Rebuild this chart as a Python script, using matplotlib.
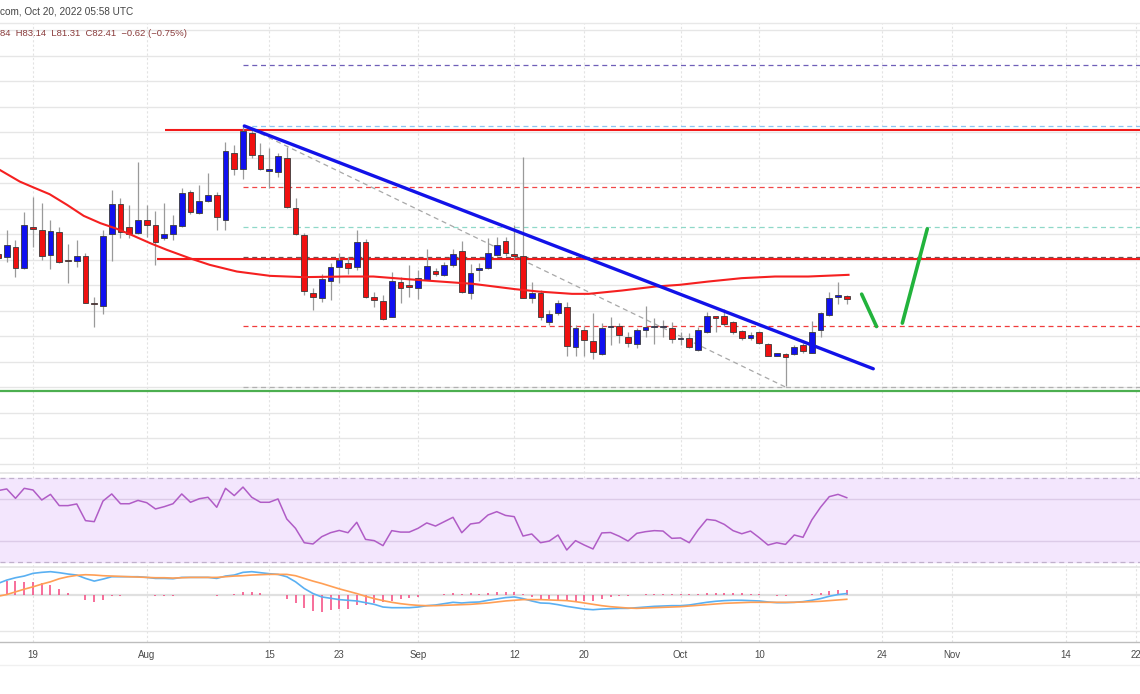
import matplotlib
matplotlib.use('Agg')
import matplotlib.pyplot as plt
import numpy as np

# day index: 0 = 2022-07-19, one candle per calendar day (d = -4 ... 93)
days = list(range(-4, 94))

opens = [91.18, 90.59, 92.61, 88.43, 96.47, 95.88, 90.98, 95.55, 89.90, 89.86,
         90.78, 81.51, 81.04, 95.04, 100.92, 96.41, 95.24, 97.84, 96.80, 94.25,
         95.04, 96.67, 103.39, 99.27, 101.57, 102.75, 97.84, 111.04, 107.84, 114.96,
         110.59, 107.45, 107.20, 109.94, 100.25, 94.90, 83.47, 82.61, 85.88, 88.69,
         89.35, 88.69, 93.47, 82.80, 82.02, 78.88, 85.69, 85.10, 84.57, 86.08,
         87.90, 87.06, 89.02, 91.82, 83.47, 88.10, 88.37, 90.98, 93.73, 91.12,
         90.78, 82.61, 83.59, 77.90, 79.67, 80.84, 73.00, 76.27, 74.12, 71.57,
         76.80, 77.06, 74.96, 73.53, 76.27, 76.80, 76.80, 76.61, 74.45, 74.65,
         72.35, 75.82, 78.76, 79.02, 77.90, 76.08, 74.65, 75.75, 73.53, 71.18,
         71.51, 71.51, 73.33, 71.82, 76.14, 79.22, 82.69, 82.84]
highs = [91.96, 95.88, 93.92, 99.47, 102.41, 101.18, 97.84, 96.53, 93.14, 93.92,
         91.37, 82.80, 95.88, 103.73, 102.16, 100.78, 109.27, 100.78, 99.61, 101.18,
         98.82, 104.12, 103.73, 104.71, 107.06, 103.39, 113.20, 112.55, 116.27, 115.49,
         112.88, 111.90, 110.92, 112.22, 102.10, 95.24, 84.45, 87.25, 89.35, 91.31,
         90.65, 95.88, 94.06, 83.78, 83.14, 87.71, 86.73, 89.02, 88.04, 92.16,
         88.37, 89.67, 92.10, 93.78, 89.16, 89.47, 94.25, 94.57, 94.45, 96.86,
         110.25, 85.75, 84.12, 80.20, 82.16, 81.82, 77.25, 77.06, 79.55, 77.59,
         78.76, 77.59, 75.94, 76.61, 80.98, 78.57, 78.24, 77.90, 75.94, 75.63,
         76.92, 79.86, 78.88, 80.33, 78.10, 76.27, 75.94, 76.08, 73.67, 71.82,
         71.71, 73.33, 73.67, 78.10, 79.86, 83.78, 85.75, 83.14]
lows = [89.61, 89.61, 86.73, 88.24, 92.61, 90.00, 88.24, 89.41, 85.55, 88.69,
        81.47, 76.92, 79.41, 89.80, 94.31, 94.31, 95.10, 94.57, 89.02, 93.92,
        93.92, 96.41, 99.02, 99.02, 101.43, 95.88, 95.88, 106.67, 105.82, 109.94,
        107.65, 104.06, 106.22, 100.14, 94.90, 83.14, 80.20, 81.82, 82.16, 85.43,
        87.25, 88.04, 82.49, 80.84, 78.24, 78.80, 81.63, 82.80, 82.29, 85.98,
        86.86, 86.86, 88.69, 83.47, 82.29, 85.88, 88.18, 90.78, 90.78, 90.00,
        82.49, 81.51, 78.24, 77.25, 79.22, 71.04, 71.04, 71.04, 70.53, 71.37,
        73.33, 73.78, 73.00, 72.69, 74.96, 73.53, 74.96, 73.67, 73.33, 72.61,
        72.02, 75.63, 75.94, 77.06, 75.49, 74.31, 74.31, 73.53, 71.04, 71.04,
        65.16, 71.37, 71.71, 71.71, 74.96, 79.02, 81.37, 81.31]
closes = [90.39, 92.94, 88.49, 96.86, 96.08, 90.84, 95.75, 89.55, 89.71, 90.84,
          81.63, 81.31, 94.71, 100.92, 95.43, 95.10, 97.84, 96.80, 93.59, 95.04,
          96.86, 103.20, 99.47, 101.63, 102.75, 98.37, 111.43, 107.78, 115.29, 110.59,
          107.84, 107.78, 110.39, 100.33, 95.04, 83.92, 82.80, 86.22, 88.69, 90.00,
          88.37, 93.47, 82.80, 82.16, 78.43, 85.88, 84.57, 84.76, 86.53, 88.82,
          87.25, 89.08, 91.18, 83.67, 87.51, 88.24, 91.31, 92.94, 91.31, 90.84,
          82.61, 83.47, 78.69, 79.41, 81.63, 73.14, 76.61, 74.31, 71.90, 76.61,
          77.06, 75.16, 73.78, 76.14, 76.80, 77.06, 77.06, 74.45, 74.65, 72.88,
          76.14, 79.08, 78.63, 77.45, 75.75, 74.65, 75.29, 73.67, 71.18, 71.71,
          70.92, 73.00, 72.16, 75.94, 79.55, 82.49, 83.03, 82.41]

# moving average (day, price)
ma_days = [-3.8, -1.5, 0.0, 1.9, 3.9, 5.8, 7.7, 9.6, 11.5, 13.4, 15.3, 17.9, 20.2,
           23.3, 27.1, 30.9, 35.7, 38.9, 42.7, 46.5, 50.3, 55.1, 57.8, 61.6, 63.5,
           67.3, 71.1, 73.9, 77.2, 81.0, 84.8, 88.6, 93.2]
ma_vals = [107.65, 105.35, 104.25, 102.88, 100.78, 98.63, 97.20, 96.08, 94.71, 93.27,
           91.96, 90.33, 89.02, 87.71, 86.86, 86.61, 86.73, 86.73, 86.22, 85.75,
           85.29, 84.25, 83.78, 83.33, 83.33, 83.98, 84.76, 85.10, 85.75, 86.41,
           86.73, 86.73, 87.06]

rsi = [64.1, 64.9, 60.4, 65.2, 64.4, 59.6, 62.3, 56.9, 56.9, 57.7,
       49.7, 49.2, 59.1, 62.5, 57.8, 57.8, 59.4, 58.3, 55.3, 56.4,
       57.8, 62.5, 58.5, 60.2, 60.9, 56.1, 65.2, 61.7, 65.8, 60.9,
       58.5, 58.5, 60.1, 50.5, 46.0, 39.1, 38.5, 42.0, 43.9, 45.0,
       43.9, 48.9, 40.7, 40.1, 37.7, 44.9, 44.2, 44.2, 46.0, 48.6,
       47.1, 49.2, 51.3, 43.9, 48.1, 48.7, 52.4, 54.0, 52.2, 51.6,
       42.3, 43.3, 39.1, 39.9, 42.8, 35.6, 40.1, 38.0, 36.1, 43.8,
       44.0, 42.2, 39.9, 43.6, 44.4, 44.9, 44.7, 41.2, 41.4, 39.1,
       45.2, 50.3, 49.8, 47.9, 44.9, 43.4, 44.7, 41.5, 38.0, 39.1,
       38.3, 42.8, 41.7, 50.0, 56.1, 61.2, 62.3, 60.7]

macd = [3.5, 4.5, 5.2, 5.7, 6.5, 6.8, 7.0, 6.7, 6.3, 6.0,
        5.0, 4.2, 4.8, 5.5, 5.5, 5.5, 5.5, 5.3, 5.0, 5.0,
        4.9, 5.3, 5.3, 5.3, 5.3, 5.0, 5.7, 6.0, 6.8, 7.0,
        6.7, 6.4, 6.2, 5.5, 4.0, 2.0, 0.5, -0.5, -0.9, -1.3,
        -1.5, -1.7, -2.2, -2.7, -3.5, -3.7, -3.7, -3.7, -3.5, -3.1,
        -2.9, -2.5, -2.1, -2.3, -2.1, -2.0, -1.5, -1.1, -0.7, -0.5,
        -1.0, -1.7, -2.3, -2.4, -2.8, -3.3, -3.7, -4.1, -4.3, -4.1,
        -4.0, -3.9, -3.9, -3.7, -3.5, -3.3, -3.2, -3.1, -3.1, -2.9,
        -2.5, -2.1, -1.8, -1.6, -1.5, -1.5, -1.6, -1.7, -2.0, -2.2,
        -2.2, -2.1, -1.9, -1.5, -1.0, -0.3, 0.2, 0.5]
signal = [-0.3, 0.2, 1.0, 1.8, 2.5, 3.3, 4.0, 4.9, 5.5, 5.9,
          6.1, 6.0, 5.8, 5.7, 5.6, 5.5, 5.4, 5.3, 5.2, 5.2,
          5.1, 5.2, 5.3, 5.3, 5.3, 5.3, 5.5, 5.7, 5.8, 6.0,
          6.1, 6.2, 6.2, 6.2, 5.8, 5.0, 4.2, 3.5, 2.7, 1.9,
          1.2, 0.5, -0.3, -1.0, -1.6, -2.1, -2.5, -2.8, -3.0, -3.1,
          -3.1, -3.0, -2.9, -2.8, -2.7, -2.5, -2.3, -2.0, -1.7, -1.5,
          -1.3, -1.3, -1.3, -1.4, -1.5, -1.6, -1.9, -2.3, -2.7, -3.1,
          -3.4, -3.6, -3.8, -3.9, -3.8, -3.7, -3.6, -3.5, -3.4, -3.2,
          -3.0, -2.8, -2.6, -2.4, -2.3, -2.2, -2.1, -2.1, -2.1, -2.1,
          -2.1, -2.1, -2.0, -1.9, -1.8, -1.6, -1.4, -1.2]
hist = [3.8, 4.3, 4.2, 3.9, 4.0, 3.5, 3.0, 1.8, 0.8, 0.1,
        -1.5, -2.0, -1.5, -0.3, -0.1, 0.0, 0.1, 0.0, -0.2, -0.2,
        -0.2, 0.1, 0.0, 0.0, 0.0, -0.3, 0.2, 0.3, 1.0, 1.0,
        0.6, 0.2, 0.0, -1.0, -2.2, -3.7, -4.8, -5.0, -4.5, -4.0,
        -4.0, -3.0, -2.8, -2.2, -1.9, -1.6, -1.2, -0.9, -0.5, 0.0,
        0.2, 0.5, 0.8, 0.5, 0.6, 0.5, 0.8, 0.9, 1.0, 1.0,
        0.3, -0.4, -1.0, -1.0, -1.3, -1.7, -1.8, -1.8, -1.6, -1.0,
        -0.6, -0.3, -0.1, 0.2, 0.3, 0.4, 0.4, 0.4, 0.3, 0.3,
        0.5, 0.7, 0.8, 0.8, 0.8, 0.7, 0.5, 0.4, 0.1, -0.1,
        -0.1, 0.0, 0.1, 0.4, 0.8, 1.3, 1.6, 1.7]

tick_days = [0, 13, 27, 35, 44, 55, 63, 74, 83, 97, 105, 118, 126]
tick_labels = ['19', 'Aug', '15', '23', 'Sep', '12', '20', 'Oct', '10', '24', 'Nov', '14', '22']

# fib levels (price, colour) drawn from the Aug high to the right edge
fib_levels = [128.24, 116.27, 104.30, 96.47, 90.65, 77.06, 64.96]
fib_colors = ['#6f5fb8', '#8ec5f2', '#f04848', '#8fd8c8', '#6b5555', '#f03c3c', '#b0b0b0']
resist_levels = [115.49, 90.20]
resist_start = [15.1, 14.2]
support_level = 64.31

XMIN, XMAX = -3.77, 126.51
H = 694.0

def band(top, bottom):
    return [0, 1 - bottom / H, 1, (bottom - top) / H]

fig = plt.figure(figsize=(11.4, 6.94), dpi=100)
ax = fig.add_axes(band(23, 472.7))
ax_rsi = fig.add_axes(band(472.7, 567.3), sharex=ax)
ax_macd = fig.add_axes(band(567.3, 641.7), sharex=ax)

for a in (ax, ax_rsi, ax_macd):
    for s in a.spines.values():
        s.set_visible(False)
    a.set_yticks([])
    a.tick_params(length=0)
    for t in tick_days:
        a.axvline(t, color='#e3e3e3', lw=0.8, ls=(0, (2, 2)), zorder=0)

# ---- main price pane ----
ax.set_xlim(XMIN, XMAX)
ax.set_ylim(48.24, 136.47)
for p in np.arange(50, 136, 5):
    ax.axhline(p, color='#e6e6e6', lw=1.0, zorder=0)

for lvl, col in zip(fib_levels, fib_colors):
    ax.hlines(lvl, 24.0, XMAX, colors=col, lw=0.9, linestyles=(0, (4, 3)), zorder=1)
for lvl, x0 in zip(resist_levels, resist_start):
    ax.hlines(lvl, x0, XMAX, colors='#f21a1a', lw=1.5, zorder=3)
ax.axhline(support_level, color='#4caf50', lw=1.6, zorder=3)

ax.plot([24.2, 86.1], [116.27, 64.96], color='#a8a8a8', lw=0.9, ls=(0, (4, 3)), zorder=2)

d = np.array(days)
o = np.array(opens)
c = np.array(closes)
up = c >= o
ax.vlines(d, lows, highs, color='#9a9a9a', lw=0.9, zorder=4)
body_lo = np.minimum(o, c)
body_h = np.maximum(np.abs(c - o), 0.3)
ax.bar(d[up], body_h[up], bottom=body_lo[up], width=0.64, color='#1010f0',
       edgecolor='#3a3a3a', linewidth=0.6, zorder=5)
ax.bar(d[~up], body_h[~up], bottom=body_lo[~up], width=0.64, color='#f01010',
       edgecolor='#3a3a3a', linewidth=0.6, zorder=5)

ax.plot(ma_days, ma_vals, color='#f52020', lw=1.5, zorder=6)
ax.plot([24.15, 96.03], [116.27, 68.63], color='#1212e8', lw=2.4, zorder=7,
        solid_capstyle='round')
ax.plot([94.7, 96.4], [83.27, 76.92], color='#22b33c', lw=2.6, zorder=7,
        solid_capstyle='round')
ax.plot([99.35, 102.2], [77.59, 96.08], color='#22b33c', lw=2.6, zorder=7,
        solid_capstyle='round')
ax.tick_params(labelbottom=False)

# ---- RSI pane ----
ax_rsi.set_ylim(27.31, 72.69)
ax_rsi.axhspan(30, 70, color='#f3e6fd', zorder=0)
for v in (40, 60):
    ax_rsi.axhline(v, color='#dccbe8', lw=1.0, zorder=1)
for v in (30, 70):
    ax_rsi.axhline(v, color='#c0b0cc', lw=0.9, ls=(0, (4, 3)), zorder=1)
ax_rsi.plot(days, rsi, color='#b05cc6', lw=1.1, zorder=3)
ax_rsi.tick_params(labelbottom=False)

# ---- MACD pane ----
ax_macd.set_ylim(-13.8, 8.3)
ax_macd.axhline(0, color='#e0e0e0', lw=1.6, zorder=1)
ax_macd.axhline(-10.5, color='#e6e6e6', lw=1.0, zorder=1)
ax_macd.vlines(days, 0, hist, color='#f5467f', lw=1.1, zorder=2)
ax_macd.plot(days, macd, color='#5ab0f2', lw=1.2, zorder=3)
ax_macd.plot(days, signal, color='#ff9f55', lw=1.2, zorder=3)
ax_macd.set_xticks(tick_days)
ax_macd.set_xticklabels(tick_labels, fontsize=7, color='#4a4a4a', family='Liberation Sans')
ax_macd.tick_params(axis='x', pad=6)

# pane separators
for yy in (472.7, 567.3):
    fig.add_artist(plt.Line2D([0, 1], [1 - yy / H, 1 - yy / H], color='#e4e4e4', lw=1.2))
fig.add_artist(plt.Line2D([0, 1], [1 - 641.7 / H, 1 - 641.7 / H], color='#bdbdbd', lw=1.0))
fig.add_artist(plt.Line2D([0, 1], [1 - 23 / H, 1 - 23 / H], color='#e8e8e8', lw=1.0))
fig.add_artist(plt.Line2D([0, 1], [1 - 665 / H, 1 - 665 / H], color='#f0f0f0', lw=1.0))

fig.text(0.0, 1 - 12 / H, 'com, Oct 20, 2022 05:58 UTC', fontsize=7.2, color='#444444',
         va='center', ha='left', family='Liberation Sans')
fig.text(0.0, 1 - 34 / H, '84  H83.14  L81.31  C82.41  \u22120.62 (\u22120.75%)',
         fontsize=6.8, color='#8a3c3c', va='center', ha='left', family='Liberation Sans')

fig.savefig('out.png', dpi=100, facecolor='white')
